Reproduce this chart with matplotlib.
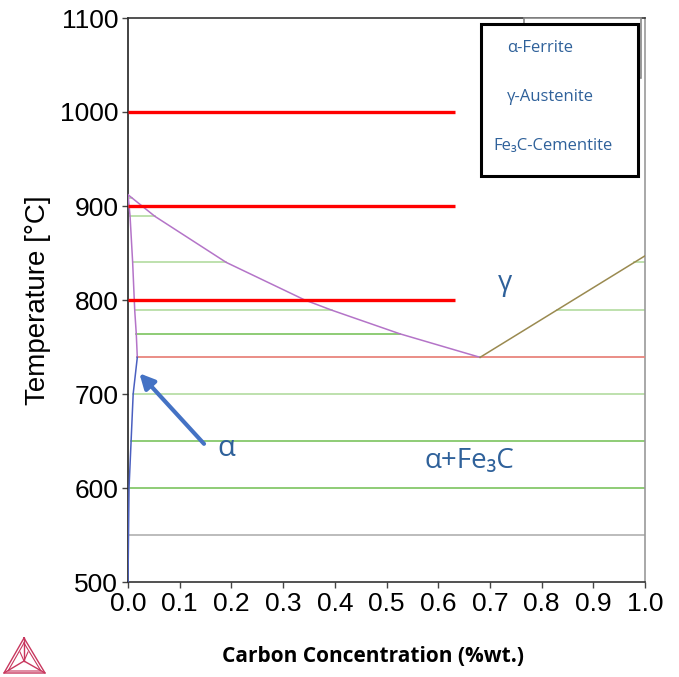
import matplotlib
matplotlib.use("Agg")
import matplotlib.pyplot as plt
from matplotlib.patches import Rectangle
from matplotlib.lines import Line2D

# ---------------- data ----------------
x_ticks = [0.0, 0.1, 0.2, 0.3, 0.4, 0.5, 0.6, 0.7, 0.8, 0.9, 1.0]
y_ticks = [500, 600, 700, 800, 900, 1000, 1100]

# alpha/(alpha+gamma) boundary (upper part, purple)
ferrite_upper_x = [0.0, 0.004, 0.009, 0.013, 0.016, 0.018]
ferrite_upper_T = [912, 889, 840, 789, 764, 739]
# alpha solvus (lower part, blue)
ferrite_lower_x = [0.018, 0.010, 0.006, 0.002, 0.001, 0.0]
ferrite_lower_T = [739, 700, 650, 600, 550, 500]

# A3 line: gamma/(alpha+gamma)
a3_x = [0.0, 0.052, 0.19, 0.342, 0.395, 0.526, 0.681]
a3_T = [912, 889, 840, 800, 789, 764, 739]

# Acm line: gamma/(gamma+Fe3C)
acm_x = [0.681, 1.0]
acm_T = [739, 847]

# Eutectoid
eut_T = 739
eut_x = [0.018, 1.0]

# tie lines (T, x_start, x_end, colour-key)
tie_T = [908, 889, 840, 789, 764, 840, 789, 700, 650, 600, 550]
tie_x0 = [0.001, 0.004, 0.009, 0.013, 0.016, 0.979, 0.829, 0.010, 0.006, 0.002, 0.001]
tie_x1 = [0.008, 0.052, 0.19, 0.395, 0.526, 1.0, 1.0, 1.0, 1.0, 1.0, 1.0]
tie_kind = ["light", "light", "light", "light", "mid", "light", "light", "light", "mid", "mid", "grey"]

# isotherms (red)
iso_T = [1000, 900, 800]
iso_x = [0.0, 0.633]

legend_labels = ["α-Ferrite", "γ-Austenite", "Fe₃C-Cementite"]

# ---------------- figure ----------------
W, H = 679, 677
fig = plt.figure(figsize=(W / 100, H / 100), dpi=100)
ax = fig.add_axes([128 / W, 1 - 582 / H, (645 - 128) / W, (582 - 18) / H])
ax.set_xlim(0, 1)
ax.set_ylim(500, 1100)

tie_colors = {"light": "#b3dca0", "mid": "#7cc35f", "grey": "#b0b0b0"}
for T, a, b, k in zip(tie_T, tie_x0, tie_x1, tie_kind):
    ax.plot([a, b], [T, T], color=tie_colors[k], lw=1.2, zorder=2)

ax.plot(eut_x, [eut_T, eut_T], color="#e8857d", lw=1.3, zorder=3)
ax.plot(ferrite_upper_x, ferrite_upper_T, color="#b474c8", lw=1.1, zorder=4)
ax.plot(ferrite_lower_x, ferrite_lower_T, color="#4a5fc0", lw=1.1, zorder=4)
ax.plot(a3_x, a3_T, color="#b474c8", lw=1.1, zorder=4)
ax.plot(acm_x, acm_T, color="#9a8a50", lw=1.1, zorder=4)

for T in iso_T:
    ax.plot(iso_x, [T, T], color="#ff0000", lw=2.4, zorder=5, solid_capstyle="butt")

# text labels
blue = "#2f619a"
fam = ["Open Sans", "DejaVu Sans"]
ax.text(0.73, 818, "γ", color=blue, fontsize=20, ha="center", va="center", family=fam)
ax.text(0.66, 629, "α+Fe₃C", color=blue, fontsize=20, ha="center", va="center", family=fam)
ax.text(0.19, 642, "α", color=blue, fontsize=21, ha="center", va="center", family=fam)
ax.annotate("", xy=(0.022, 722), xytext=(0.147, 647),
            arrowprops=dict(arrowstyle="-|>", color="#4472c4", lw=3, mutation_scale=22,
                            shrinkA=0, shrinkB=0), zorder=6)

# axes style
ax.set_xticks(x_ticks)
ax.set_yticks(y_ticks)
ax.set_xticklabels([f"{v:.1f}" for v in x_ticks])
ax.set_yticklabels([str(v) for v in y_ticks])
ax.tick_params(direction="out", length=4, width=1, labelsize=19, pad=3, color="#444444")
for lab in ax.get_xticklabels() + ax.get_yticklabels():
    lab.set_family(["Liberation Sans", "DejaVu Sans"])
ax.spines["left"].set_color("#222222")
ax.spines["bottom"].set_color("#333333")
ax.spines["top"].set_color("#333333")
ax.spines["right"].set_color("#999999")
for s in ax.spines.values():
    s.set_linewidth(1.2)

fig.text(38 / W, 1 - 300 / H, "Temperature [°C]", rotation=90, ha="center", va="center",
         fontsize=20, family=["Liberation Sans", "DejaVu Sans"])
fig.text(373 / W, 1 - 657 / H, "Carbon Concentration (%wt.)", ha="center", va="center",
         fontsize=15, fontweight="bold", family=["Open Sans", "DejaVu Sans"])

# legend-like boxes
fig.patches.append(Rectangle((524 / W, 1 - 78 / H), (641 - 524) / W, (78 - 18) / H,
                             transform=fig.transFigure, facecolor="white",
                             edgecolor="#888888", lw=1.2, zorder=10))
fig.patches.append(Rectangle((481 / W, 1 - 176 / H), (638 - 481) / W, (176 - 24) / H,
                             transform=fig.transFigure, facecolor="white",
                             edgecolor="black", lw=2.2, zorder=11))
for (px, py), lab in zip([(540, 48), (550, 97), (553, 146)], legend_labels):
    fig.text(px / W, 1 - py / H, lab, color=blue, fontsize=12, ha="center", va="center",
             family=fam, zorder=12)

# logo (tetrahedron)
lc = "#c8375e"
A, B, C, D = (24, 638), (4, 673), (45, 673), (24, 661)
def fp(p):
    return (p[0] / W, 1 - p[1] / H)
tri = [fp(A), fp(B), fp(C), fp(A)]
fig.lines.append(Line2D([p[0] for p in tri], [p[1] for p in tri], transform=fig.transFigure,
                        color=lc, lw=1.0))
A2, B2, C2 = (24, 643), (8, 671), (41, 671)
tri2 = [fp(A2), fp(B2), fp(C2), fp(A2)]
fig.lines.append(Line2D([p[0] for p in tri2], [p[1] for p in tri2], transform=fig.transFigure,
                        color=lc, lw=0.8))
for P in [A, B, C]:
    fig.lines.append(Line2D([fp(P)[0], fp(D)[0]], [fp(P)[1], fp(D)[1]],
                            transform=fig.transFigure, color=lc, lw=1.0))
fig.lines.append(Line2D([fp((20, 652))[0], fp((24, 661))[0], fp((28, 652))[0]],
                        [fp((20, 652))[1], fp((24, 661))[1], fp((28, 652))[1]],
                        transform=fig.transFigure, color=lc, lw=0.8))

fig.savefig("out.png", dpi=100, facecolor="white")
